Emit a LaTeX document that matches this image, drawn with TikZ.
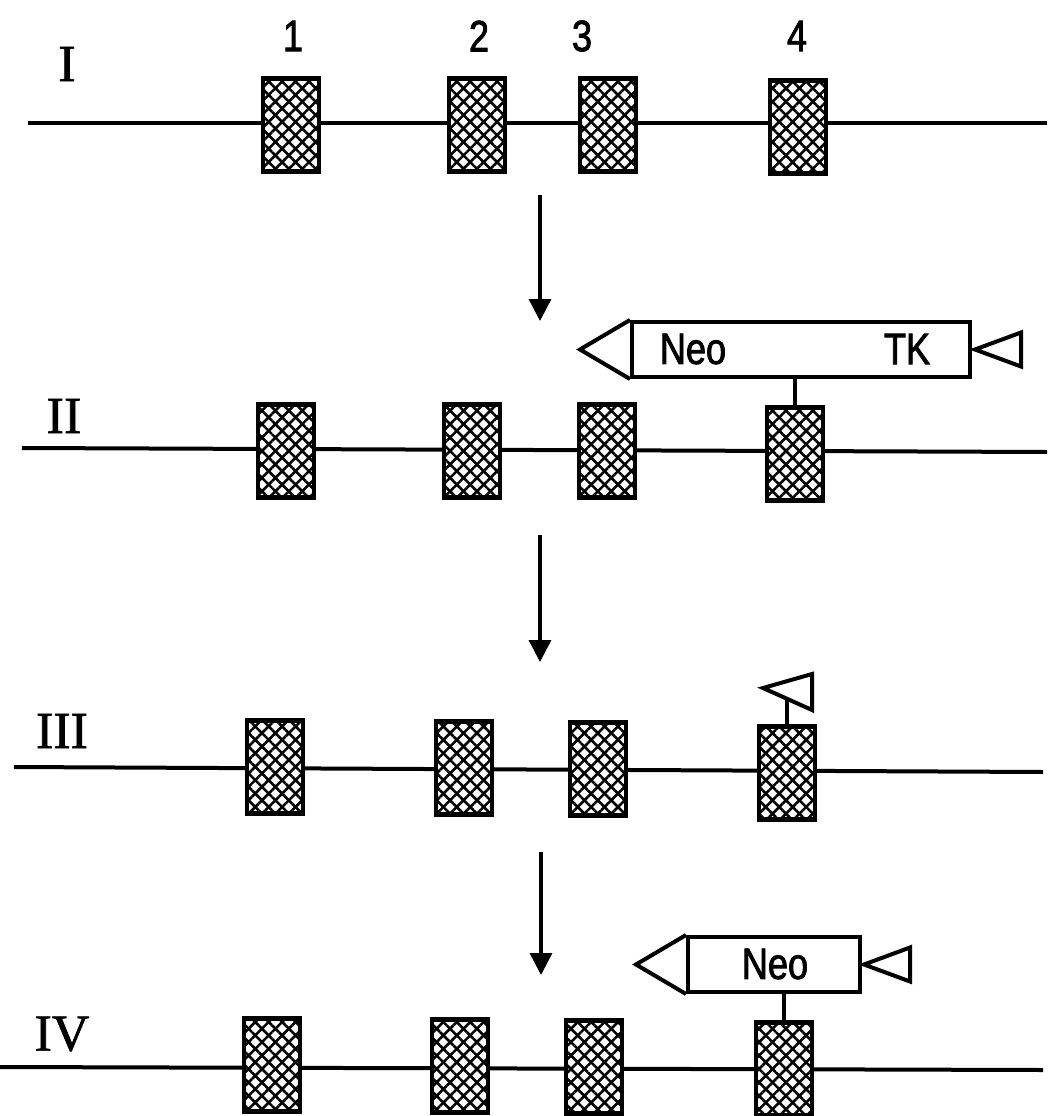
\documentclass[tikz,border=0pt]{standalone}
\usepackage{fontspec}
\setmainfont{Liberation Serif}[FakeBold=1.2]
\newfontfamily\cond[FakeStretch=0.82,FakeBold=1.8]{Liberation Sans}
\usetikzlibrary{patterns.meta,arrows.meta,calc}
\tikzset{
  exon/.style={draw, line width=4.8pt, fill=white, minimum width=56pt, minimum height=93pt, inner sep=0pt,
    postaction={pattern={Lines[angle=45,distance=9.5pt,line width=2.6pt]}},
    postaction={pattern={Lines[angle=-45,distance=9.5pt,line width=2.6pt]}}},
  dna/.style={line width=4pt},
  roman/.style={font=\rmfamily\fontsize{52}{56}\selectfont, inner sep=0pt},
  lbl/.style={font=\cond\fontsize{44}{48}\selectfont, inner sep=0pt},
  cass/.style={draw, line width=4pt, fill=white, minimum height=55pt, inner sep=0pt},
  tri/.style={draw, line width=4pt, line join=miter},
  stem/.style={line width=4pt},
  step arrow/.style={line width=3.4pt, -{Triangle[length=22pt,width=22pt]}}
}
\begin{document}
\begin{tikzpicture}[x=1pt,y=-1pt]
\useasboundingbox (0,0) rectangle (1047,1116);
% ---------- Row I ----------
\node[roman] (rI) at (67,64) {I};
\node[lbl] (n1) at (293,36) {1};
\node[lbl] (n2) at (479,36) {2};
\node[lbl] (n3) at (582,36) {3};
\node[lbl] (n4) at (797,36) {4};
\coordinate (L1) at (28,123);
\coordinate (R1) at (1047,123);
\draw[dna] (L1) -- (R1);
\node[exon] (b11) at (291,125) {};
\node[exon] (b12) at (477,125) {};
\node[exon] (b13) at (608,125) {};
\node[exon] (b14) at (798,127) {};
% ---------- arrow I -> II ----------
\coordinate (a1s) at (540,195);
\coordinate (a1e) at (540,321);
\draw[step arrow] (a1s) -- (a1e);
% ---------- Row II ----------
\node[roman] (rII) at (64,416) {II};
\coordinate (L2) at (22,448);
\coordinate (R2) at (1047,452);
\draw[dna] (L2) -- (R2);
\node[exon] (b21) at (286,451) {};
\node[exon] (b22) at (472,451) {};
\node[exon] (b23) at (607,451) {};
\node[exon] (b24) at (795,454) {};
\node[cass, minimum width=338pt] (c2) at (801,349.5) {};
\draw[tri] (c2.north west) -- ($(c2.west)+(-50,0)$) -- (c2.south west);
\draw[tri] ($(c2.east)+(3,0)$) -- ++(46,-17) -- ++(0,34) -- cycle;
\node[lbl] (neo2) at (693,349) {Neo};
\node[lbl] (tk2) at (907,349) {TK};
\draw[stem] (b24.north) -- (b24.north |- c2.south);
% ---------- arrow II -> III ----------
\coordinate (a2s) at (540,535);
\coordinate (a2e) at (540,662);
\draw[step arrow] (a2s) -- (a2e);
% ---------- Row III ----------
\node[roman] (rIII) at (62,731) {III};
\coordinate (L3) at (14,767);
\coordinate (R3) at (1043,772);
\draw[dna] (L3) -- (R3);
\node[exon] (b31) at (275,767) {};
\node[exon] (b32) at (464,768) {};
\node[exon] (b33) at (598,769) {};
\node[exon] (b34) at (787,773) {};
\coordinate (tip3) at (763,688);
\draw[tri] (tip3) -- (812,674) -- (812,710) -- cycle;
\coordinate (f3) at (b34.north |- 0,700);
\draw[stem] (b34.north) -- (f3);
% ---------- arrow III -> IV ----------
\coordinate (a3s) at (541,852);
\coordinate (a3e) at (541,975);
\draw[step arrow] (a3s) -- (a3e);
% ---------- Row IV ----------
\node[roman] (rIV) at (62,1034) {IV};
\coordinate (L4) at (0,1067);
\coordinate (R4) at (1043,1070);
\draw[dna] (L4) -- (R4);
\node[exon] (b41) at (272,1065) {};
\node[exon] (b42) at (460,1066) {};
\node[exon] (b43) at (594,1067) {};
\node[exon] (b44) at (784,1069) {};
\node[cass, minimum width=172pt] (c4) at (774,964.5) {};
\draw[tri] (c4.north west) -- ($(c4.west)+(-50,0)$) -- (c4.south west);
\draw[tri] ($(c4.east)+(2,0)$) -- ++(46,-17) -- ++(0,34) -- cycle;
\node[lbl] (neo4) at (775,964) {Neo};
\draw[stem] (b44.north) -- (b44.north |- c4.south);
\end{tikzpicture}
\end{document}
